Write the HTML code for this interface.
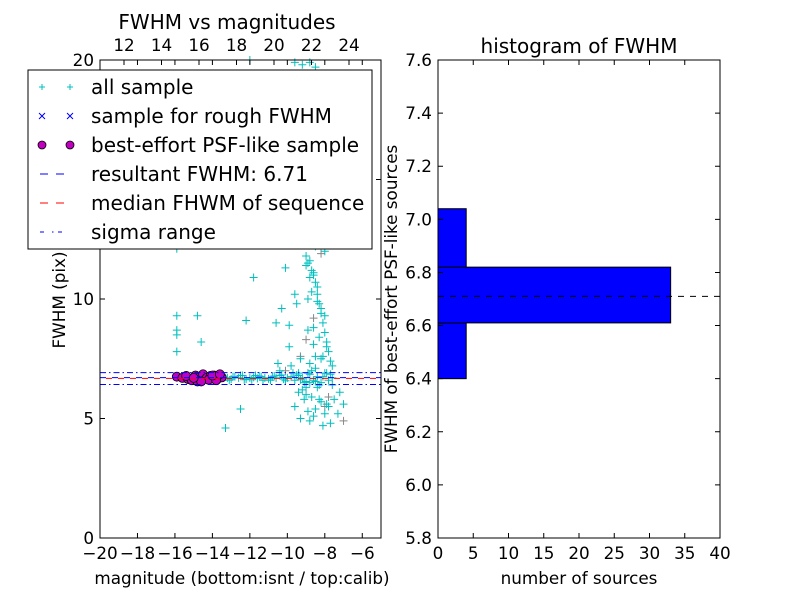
<!DOCTYPE html>
<html><head><meta charset="utf-8"><style>
body{margin:0;background:#fff;font-family:"Liberation Sans","DejaVu Sans",sans-serif}
svg text{font-family:"DejaVu Sans","Liberation Sans",sans-serif}
</style></head><body>
<svg id="c" width="800" height="600" xmlns="http://www.w3.org/2000/svg"></svg>
<script>
const allX=[-13.2,-13.0,-12.8,-12.6,-12.4,-12.2,-12.0,-11.8,-11.6,-11.4,-11.2,-11.0,-10.8,-10.6,-10.4,-10.2,-10.0,-9.8,-9.6,-9.4,-9.2,-9.0,-8.8,-8.6,-8.4,-8.2,-8.0,-7.8,-7.6,-13.1,-12.5,-11.9,-11.5,-10.9,-10.3,-9.7,-9.1,-8.7,-8.3,-7.9,
-15.9,-15.9,-15.9,-15.9,-15.9,-14.8,-14.6,-12.2,-12.5,-13.3,-11.8,-10.3,-9.9,-9.5,-9.3,-10.5,-9.7,-9.1,-9.6,-10.1,-9.4,
-9.0,-8.9,-8.8,-8.7,-8.6,-8.5,-8.4,-8.3,-8.2,-8.1,-8.0,-7.9,-7.8,-7.7,-7.6,-8.6,-8.4,-8.2,-8.0,-8.3,-8.5,-8.1,-7.9,-8.7,-8.9,-8.4,-8.2,-8.6,-8.0,-7.8,-8.3,-8.5,-8.1,-7.7,-8.8,-8.4,-8.2,-8.0,-8.6,-8.3,-7.9,-8.1,-8.5,-9.2,-9.0,-8.7,-8.4,-7.5,-7.2,-7.0,-7.3,-8.8,-8.2,-9.6,-9.3,-8.9,-8.6,-8.1,-7.8,-7.6,-9.4,-9.1,-8.5,-8.0,-7.7,-9.8,-10.4,-9.0,-8.8,-8.3,-7.9,
-9.6,-9.2,-8.8,-8.5,-9.4,-9.0,-8.7,-8.4,-9.1,-8.9,-8.6,-8.3,-9.3,-8.8,-8.5,-9.0,-8.7,-8.4,-8.9,-8.6,-8.5,-8.8,-11.2,-12.0,-10.6,-9.9,-8.2,-8.0,-8.6,-8.9,
-12.9,-12.3,-11.7,-11.3,-10.7,-10.1,-9.5,-9.3,-8.9,-8.5,-8.1,-7.7];
const allY=[6.7,6.65,6.75,6.7,6.8,6.65,6.7,6.72,6.68,6.75,6.7,6.66,6.74,6.7,6.8,6.65,6.7,6.75,6.6,6.8,6.7,6.55,6.85,6.6,6.75,6.5,6.9,6.6,6.7,6.6,6.8,6.62,6.78,6.6,6.82,6.9,6.5,7.0,6.4,6.9,
9.3,8.7,8.5,7.8,12.1,9.3,8.2,9.1,5.4,4.6,10.9,9.6,8.9,9.8,7.5,7.3,12.9,13.1,10.2,11.3,6.9,
11.8,11.5,11.6,11.2,11.0,10.7,10.2,9.8,9.4,9.0,8.6,8.2,7.8,7.4,7.2,12.6,13.2,13.8,14.3,14.8,15.3,16.0,16.6,17.1,17.6,18.3,19.0,19.4,18.8,17.9,16.2,15.7,13.5,12.4,10.9,10.5,9.6,9.3,8.8,8.4,8.0,7.6,7.1,6.2,6.0,5.9,6.3,5.8,6.1,5.6,5.2,4.9,5.7,5.5,5.0,5.3,5.1,4.7,5.5,6.4,6.1,5.8,5.4,5.2,4.8,7.2,7.0,6.3,6.5,5.8,5.6,
19.9,19.8,19.9,19.7,17.2,16.8,18.1,17.4,15.1,14.6,15.9,14.0,13.4,12.9,12.2,11.4,10.3,9.9,8.7,8.1,7.6,7.3,12.3,20.0,9.0,8.0,7.5,12.0,11.1,10.0,
6.75,6.62,6.8,6.6,6.78,6.58,6.82,6.62,6.9,6.55,6.75,6.85];
const grayX=[-9.3,-9.0,-8.2,-7.0,-10.1,-7.8,-8.6,-8.0];
const grayY=[7.6,8.3,11.9,4.9,7.0,5.9,9.2,5.5];
const bestX=[-15.9,-15.6,-15.3,-15.1,-14.9,-14.7,-14.5,-14.3,-14.1,-13.9,-13.7,-13.5,-15.4,-14.8,-14.2,-13.8,-14.6,-15.0,-14.0,-13.6];
const bestY=[6.75,6.7,6.65,6.6,6.8,6.72,6.85,6.7,6.78,6.8,6.68,6.72,6.78,6.55,6.62,6.6,6.55,6.7,6.8,6.85];
const xTicks=[-20,-18,-16,-14,-12,-10,-8,-6];
const yTicks=[0,5,10,15,20];
const topTicks=[12,14,16,18,20,22,24];
const resultFWHM=6.71, sigmaLow=6.42, sigmaHigh=6.92, medianFWHM=6.68;
const binEdges=[6.4,6.61,6.82,7.04];
const binCounts=[4,33,4];
const hxTicks=[0,5,10,15,20,25,30,35,40];
const hyTicks=[5.8,6.0,6.2,6.4,6.6,6.8,7.0,7.2,7.4,7.6];

const S=document.getElementById('c');const NS='http://www.w3.org/2000/svg';
function mk(t,a,p){const e=document.createElementNS(NS,t);for(const k in a)e.setAttribute(k,a[k]);(p||S).appendChild(e);return e;}
function tx(x,y,s,o){const e=mk('text',Object.assign({x:x,y:y,'font-size':16.8,fill:'#000'},o||{}));e.textContent=s;return e;}
const L={x0:100,x1:381,y0:538,y1:60};
const lx=v=>L.x0+(v+20)/15*(L.x1-L.x0);
const ly=v=>L.y0-v/20*(L.y0-L.y1);
const tpx=v=>124+(v-12)*18.75;
const lg=mk('g',{});


function plus(g,x,y,c){mk('path',{d:`M${x-4} ${y}h8M${x} ${y-4}v8`,stroke:c,'stroke-width':1},g);}
grayX.forEach((v,i)=>plus(lg,lx(v),ly(grayY[i]),'#888'));
allX.forEach((v,i)=>plus(lg,lx(v),ly(allY[i]),'#00bfbf'));
bestX.forEach((v,i)=>mk('circle',{cx:lx(v),cy:ly(bestY[i]),r:4.5,fill:'#bf00bf',stroke:'#000','stroke-width':0.8},lg));
mk('line',{x1:L.x0,x2:L.x1,y1:ly(sigmaLow),y2:ly(sigmaLow),stroke:'#00f','stroke-dasharray':'6 3 1.5 3'},lg);
mk('line',{x1:L.x0,x2:L.x1,y1:ly(sigmaHigh),y2:ly(sigmaHigh),stroke:'#00f','stroke-dasharray':'6 3 1.5 3'},lg);
mk('line',{x1:L.x0,x2:L.x1,y1:ly(resultFWHM),y2:ly(resultFWHM),stroke:'#00f','stroke-dasharray':'6 6'},lg);
mk('line',{x1:L.x0,x2:L.x1,y1:ly(medianFWHM),y2:ly(medianFWHM),stroke:'#f00','stroke-dasharray':'6 6','stroke-dashoffset':6},lg);
mk('rect',{x:L.x0,y:L.y1,width:L.x1-L.x0,height:L.y0-L.y1,fill:'none',stroke:'#000'});
xTicks.forEach(v=>{const x=lx(v);mk('path',{d:`M${x} ${L.y0}v-5M${x} ${L.y1}v5`,stroke:'#000'});tx(x,L.y0+21,'\u2212'+Math.abs(v),{'text-anchor':'middle'});});
yTicks.forEach(v=>{const y=ly(v);mk('path',{d:`M${L.x0} ${y}h5M${L.x1} ${y}h-5`,stroke:'#000'});tx(L.x0-6,y+6,String(v),{'text-anchor':'end'});});
topTicks.forEach(v=>{const x=tpx(v);mk('path',{d:`M${x} ${L.y1}v5`,stroke:'#000'});tx(x,L.y1-9,String(v),{'text-anchor':'middle'});});
tx(227,29,'FWHM vs magnitudes',{'text-anchor':'middle','font-size':20});
tx(242,584,'magnitude (bottom:isnt / top:calib)',{'text-anchor':'middle'});
tx(0,0,'FWHM (pix)',{'text-anchor':'middle',transform:'translate(65,300) rotate(-90)'});
const lgd=mk('g',{});


mk('rect',{x:28,y:70,width:344,height:179,fill:'#fff',stroke:'#000'},lgd);
const items=[['all sample','plus'],['sample for rough FWHM','x'],['best-effort PSF-like sample','o'],['resultant FWHM: 6.71','bd'],['median FHWM of sequence','rd'],['sigma range','dd']];
items.forEach((it,i)=>{const y=87+i*29;
 [42,70].forEach(x=>{
  if(it[1]=='plus')mk('path',{d:`M${x-3} ${y}h6M${x} ${y-3}v6`,stroke:'#00bfbf'},lgd);
  if(it[1]=='x')mk('path',{d:`M${x-3} ${y-3}l6 6M${x+3} ${y-3}l-6 6`,stroke:'#00f'},lgd);
  if(it[1]=='o')mk('circle',{cx:x,cy:y,r:4,fill:'#bf00bf',stroke:'#000','stroke-width':0.8},lgd);
 });
 if(it[1]=='bd'||it[1]=='rd')mk('path',{d:`M40 ${y}h8M56 ${y}h8`,stroke:it[1]=='bd'?'#00f':'#f00'},lgd);
 if(it[1]=='dd')mk('path',{d:`M40 ${y}h4M52 ${y}h1.5M58 ${y}h4`,stroke:'#00f'},lgd);
 const t=tx(91,y+7,it[0],{'font-size':20});lgd.appendChild(t);
});
const R={x0:438,x1:720,y0:538,y1:60};
const rx=v=>R.x0+v/40*(R.x1-R.x0);
const ry=v=>R.y0-(v-5.8)/1.8*(R.y0-R.y1);
binCounts.forEach((c,i)=>{const b=mk('rect',{x:rx(0),y:ry(binEdges[i+1]),width:rx(c)-rx(0),height:ry(binEdges[i])-ry(binEdges[i+1]),fill:'#00f',stroke:'#000'});

});
mk('line',{x1:R.x0,x2:R.x1,y1:ry(resultFWHM),y2:ry(resultFWHM),stroke:'#000','stroke-dasharray':'6 6'});
mk('rect',{x:R.x0,y:R.y1,width:R.x1-R.x0,height:R.y0-R.y1,fill:'none',stroke:'#000'});
hxTicks.forEach(v=>{const x=rx(v);mk('path',{d:`M${x} ${R.y0}v-5M${x} ${R.y1}v5`,stroke:'#000'});tx(x,R.y0+21,String(v),{'text-anchor':'middle'});});
hyTicks.forEach(v=>{const y=ry(v);mk('path',{d:`M${R.x0} ${y}h5M${R.x1} ${y}h-5`,stroke:'#000'});tx(R.x0-6,y+6,v.toFixed(1),{'text-anchor':'end'});});
tx(579,53,'histogram of FWHM',{'text-anchor':'middle','font-size':20});
tx(579,584,'number of sources',{'text-anchor':'middle'});
tx(0,0,'FWHM of best-effort PSF-like sources',{'text-anchor':'middle',transform:'translate(397,299) rotate(-90)'});
</script>
</body></html>
